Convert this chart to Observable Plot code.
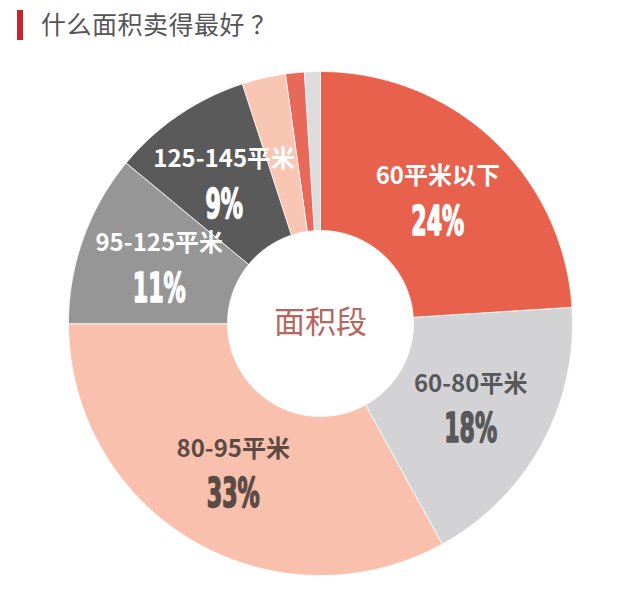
<!DOCTYPE html>
<html><head><meta charset="utf-8">
<script src="https://cdn.jsdelivr.net/npm/d3@7"></script>
<script src="https://cdn.jsdelivr.net/npm/@observablehq/plot@0.6"></script>
<style>
body{margin:0;background:#fff;font-family:"Noto Sans CJK SC",sans-serif;}
#wrap{position:relative;width:640px;height:590px;overflow:hidden;}
#bar{position:absolute;left:17px;top:10px;width:6px;height:30px;background:#c3272d;}
#title{position:absolute;left:41px;top:6px;font-size:25px;line-height:34px;color:#555;white-space:nowrap;letter-spacing:0.5px;}
#chart{position:absolute;left:0;top:0;}
</style></head>
<body><div id="wrap"><div id="chart"></div><div id="bar"></div><div id="title">什么面积卖得最好 ？</div></div>
<script>
// ---- data ----
const categories = ["60平米以下","60-80平米","80-95平米","95-125平米","125-145平米","其他A","其他B","其他C"];
const values     = [24, 18, 33, 11, 9, 2.8, 1.2, 1.0];
const pctLabels  = ["24%","18%","33%","11%","9%","","",""];
const showLabel  = [true,true,true,true,true,false,false,false];
const sliceColors = ["#e8614d","#d3d3d5","#f9c1ad","#969696","#5a5a5b","#f8c6b3","#e8685a","#dedcdc"];
const labelColors = ["#ffffff","#58585a","#5c4a44","#ffffff","#ffffff","","",""];
const centerText = "面积段";

// ---- layout ----
const W = 640, H = 590, cx = 320, cy = 323, R = 252, R0 = 93;
const r0 = R0 / R;

const arcs = d3.pie().sort(null).value(d => d)(values);
const poly = [];
arcs.forEach((a, i) => {
  const n = Math.max(2, Math.ceil((a.endAngle - a.startAngle) / 0.005));
  for (let k = 0; k <= n; k++) {
    const t = a.startAngle + (a.endAngle - a.startAngle) * k / n;
    poly.push({cat: categories[i], x: Math.sin(t), y: Math.cos(t)});
  }
  for (let k = n; k >= 0; k--) {
    const t = a.startAngle + (a.endAngle - a.startAngle) * k / n;
    poly.push({cat: categories[i], x: r0 * Math.sin(t), y: r0 * Math.cos(t)});
  }
});

const labelR = 0.68;
const labels = arcs.map((a, i) => {
  const m = (a.startAngle + a.endAngle) / 2;
  return {name: categories[i], pct: pctLabels[i], color: labelColors[i], show: showLabel[i],
          x: labelR * Math.sin(m), y: labelR * Math.cos(m)};
}).filter(d => d.show);

const marks = [
  Plot.line(poly, {x: "x", y: "y", z: "cat", fill: "cat", stroke: "white", strokeWidth: 0.8, curve: "linear-closed"})
];
labels.forEach(d => {
  marks.push(Plot.text([d], {x: "x", y: "y", text: "name", dy: -22, fill: d.color, fontSize: 24, fontWeight: "bold", fontFamily: "Noto Sans CJK SC"}));
  marks.push(Plot.text([d], {x: "x", y: "y", text: "pct", dy: 23, fill: d.color, stroke: d.color, strokeWidth: 1.6, fontSize: 41, fontWeight: "bold", fontFamily: "DejaVu Sans Condensed"}));
});
marks.push(Plot.text([centerText], {x: () => 0, y: () => 0, text: d => d, fill: "#b5675d", fontSize: 31, fontFamily: "Noto Sans CJK SC"}));

const svg = Plot.plot({
  width: W, height: H,
  marginTop: 0, marginRight: 0, marginBottom: 0, marginLeft: 0,
  x: {domain: [-cx / R, (W - cx) / R], axis: null},
  y: {domain: [-(H - cy) / R, cy / R], axis: null},
  color: {domain: categories, range: sliceColors},
  style: {background: "white"},
  marks
});

d3.select(svg).selectAll('g[font-family="DejaVu Sans Condensed"] text').each(function () {
  const s = 0.6;
  const t = this.getAttribute("transform");
  if (t) this.setAttribute("transform", t + ` scale(${s},1)`);
  else {
    const x = +this.getAttribute("x") || 0;
    this.setAttribute("transform", `translate(${x * (1 - s)},0) scale(${s},1)`);
  }
});

document.getElementById("chart").appendChild(svg);
</script>
</body></html>
